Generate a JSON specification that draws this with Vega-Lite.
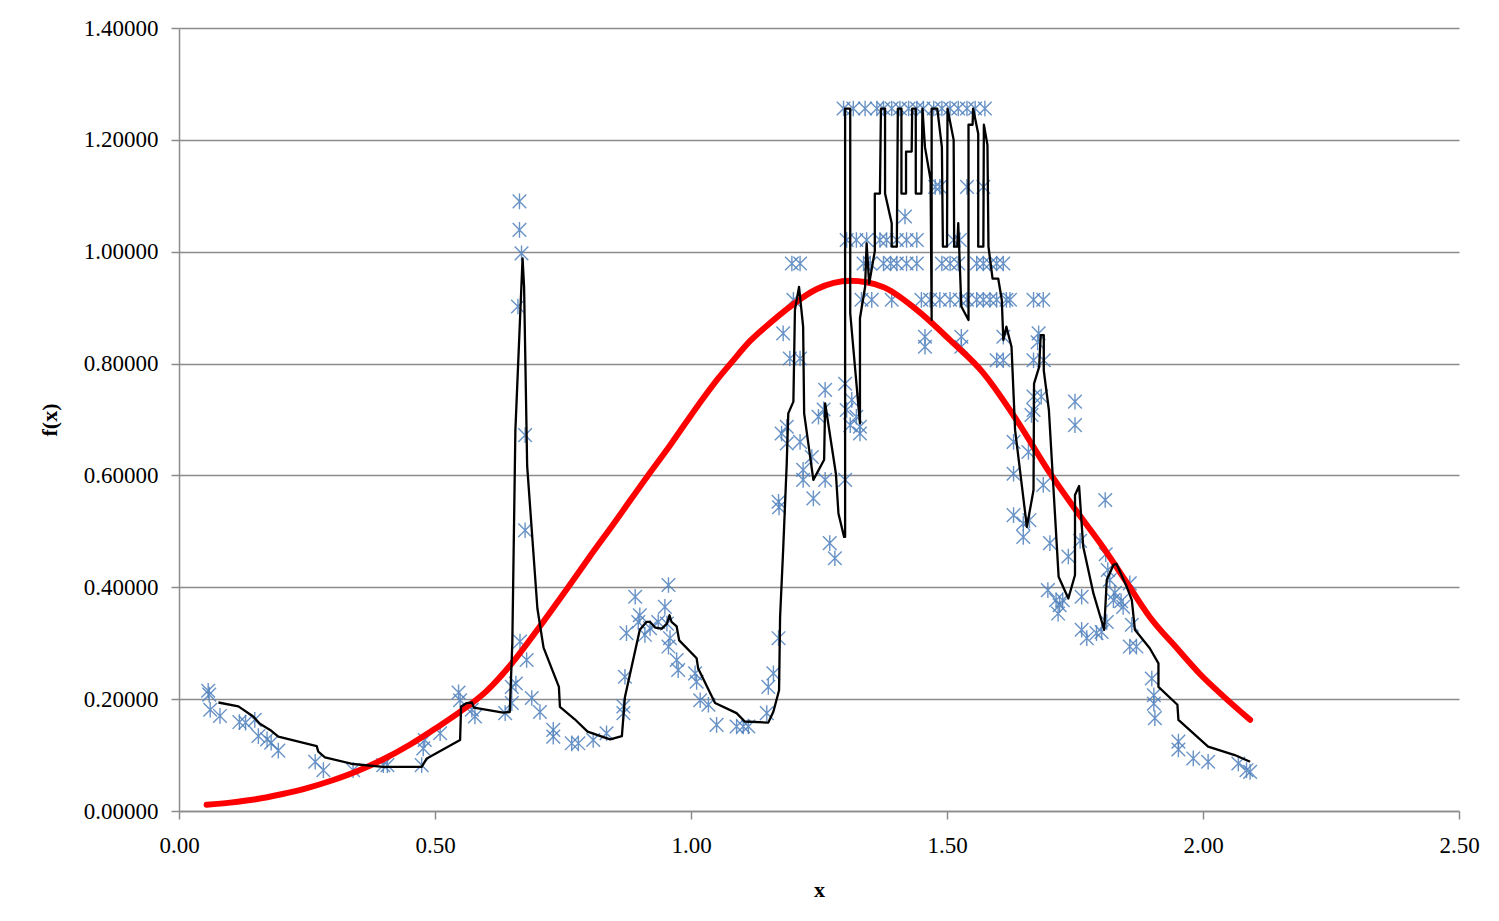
{
  "$schema": "https://vega.github.io/schema/vega-lite/v6.json",
  "width": 1280,
  "height": 783,
  "autosize": {"type": "none"},
  "padding": {"left": 179, "top": 28, "right": 40, "bottom": 110},
  "background": "white",
  "config": {
    "view": {"stroke": null},
    "font": "Liberation Serif",
    "axis": {
      "labelFont": "Liberation Serif",
      "titleFont": "Liberation Serif",
      "labelFontSize": 23,
      "titleFontSize": 22,
      "labelColor": "#000000",
      "titleColor": "#000000",
      "titleFontWeight": "bold",
      "domainColor": "#8c8c8c",
      "domainWidth": 1.5,
      "tickColor": "#8c8c8c",
      "tickWidth": 1.5,
      "tickSize": 8,
      "gridColor": "#8c8c8c",
      "gridWidth": 1.3,
      "labelFlush": false
    }
  },
  "datasets": {
    "pts": [
      {"x":0.057,"y":0.215},{"x":0.059,"y":0.208},{"x":0.061,"y":0.181},{"x":0.080,"y":0.170},
      {"x":0.118,"y":0.159},{"x":0.130,"y":0.158},{"x":0.148,"y":0.163},{"x":0.155,"y":0.134},
      {"x":0.172,"y":0.128},{"x":0.180,"y":0.122},{"x":0.194,"y":0.108},{"x":0.266,"y":0.088},
      {"x":0.282,"y":0.073},{"x":0.340,"y":0.073},{"x":0.399,"y":0.082},{"x":0.407,"y":0.082},
      {"x":0.474,"y":0.082},{"x":0.477,"y":0.112},{"x":0.480,"y":0.127},{"x":0.510,"y":0.139},
      {"x":0.546,"y":0.212},{"x":0.549,"y":0.198},{"x":0.572,"y":0.181},{"x":0.578,"y":0.169},
      {"x":0.637,"y":0.175},{"x":0.650,"y":0.193},{"x":0.650,"y":0.222},{"x":0.658,"y":0.228},
      {"x":0.662,"y":0.902},{"x":0.665,"y":1.090},{"x":0.665,"y":1.039},{"x":0.669,"y":0.997},
      {"x":0.666,"y":0.303},{"x":0.676,"y":0.672},{"x":0.676,"y":0.502},{"x":0.679,"y":0.270},
      {"x":0.689,"y":0.202},{"x":0.705,"y":0.177},{"x":0.731,"y":0.145},{"x":0.731,"y":0.133},
      {"x":0.767,"y":0.121},{"x":0.780,"y":0.121},{"x":0.809,"y":0.127},{"x":0.835,"y":0.139},
      {"x":0.868,"y":0.187},{"x":0.868,"y":0.175},{"x":0.871,"y":0.240},{"x":0.874,"y":0.318},
      {"x":0.891,"y":0.383},{"x":0.900,"y":0.350},{"x":0.897,"y":0.338},{"x":0.910,"y":0.315},
      {"x":0.920,"y":0.327},{"x":0.936,"y":0.338},{"x":0.949,"y":0.365},{"x":0.956,"y":0.404},
      {"x":0.953,"y":0.335},{"x":0.959,"y":0.309},{"x":0.956,"y":0.294},{"x":0.972,"y":0.270},
      {"x":0.975,"y":0.252},{"x":1.008,"y":0.246},{"x":1.011,"y":0.231},{"x":1.018,"y":0.198},
      {"x":1.034,"y":0.190},{"x":1.050,"y":0.154},{"x":1.089,"y":0.151},{"x":1.102,"y":0.151},
      {"x":1.112,"y":0.151},{"x":1.148,"y":0.175},{"x":1.151,"y":0.222},{"x":1.161,"y":0.246},
      {"x":1.171,"y":0.309},{"x":1.171,"y":0.553},{"x":1.172,"y":0.543},{"x":1.177,"y":0.675},
      {"x":1.187,"y":0.687},{"x":1.187,"y":0.657},{"x":1.180,"y":0.854},{"x":1.193,"y":0.809},
      {"x":1.213,"y":0.809},{"x":1.197,"y":0.979},{"x":1.213,"y":0.979},{"x":1.200,"y":0.914},
      {"x":1.213,"y":0.660},{"x":1.219,"y":0.610},{"x":1.236,"y":0.633},{"x":1.219,"y":0.592},
      {"x":1.239,"y":0.559},{"x":1.249,"y":0.705},{"x":1.259,"y":0.718},{"x":1.262,"y":0.753},
      {"x":1.262,"y":0.592},{"x":1.271,"y":0.479},{"x":1.281,"y":0.452},{"x":1.301,"y":0.764},
      {"x":1.304,"y":0.717},{"x":1.314,"y":0.735},{"x":1.323,"y":0.705},{"x":1.311,"y":0.690},
      {"x":1.330,"y":0.687},{"x":1.330,"y":0.675},{"x":1.301,"y":0.592},
      {"x":1.298,"y":1.256},{"x":1.317,"y":1.256},{"x":1.340,"y":1.256},{"x":1.363,"y":1.256},
      {"x":1.376,"y":1.256},{"x":1.392,"y":1.256},{"x":1.408,"y":1.256},{"x":1.425,"y":1.256},
      {"x":1.441,"y":1.256},{"x":1.454,"y":1.256},{"x":1.474,"y":1.256},{"x":1.490,"y":1.256},
      {"x":1.506,"y":1.256},{"x":1.522,"y":1.256},{"x":1.539,"y":1.256},{"x":1.555,"y":1.256},
      {"x":1.574,"y":1.256},
      {"x":1.477,"y":1.116},{"x":1.486,"y":1.116},{"x":1.539,"y":1.116},{"x":1.571,"y":1.116},
      {"x":1.418,"y":1.063},
      {"x":1.304,"y":1.021},{"x":1.323,"y":1.021},{"x":1.343,"y":1.021},{"x":1.369,"y":1.021},
      {"x":1.382,"y":1.021},{"x":1.402,"y":1.021},{"x":1.421,"y":1.021},{"x":1.441,"y":1.021},
      {"x":1.513,"y":1.021},{"x":1.525,"y":1.021},
      {"x":1.337,"y":0.979},{"x":1.350,"y":0.979},{"x":1.376,"y":0.979},{"x":1.390,"y":0.979},
      {"x":1.402,"y":0.979},{"x":1.421,"y":0.979},{"x":1.441,"y":0.979},{"x":1.490,"y":0.979},
      {"x":1.506,"y":0.979},{"x":1.522,"y":0.979},{"x":1.558,"y":0.979},{"x":1.571,"y":0.979},
      {"x":1.584,"y":0.979},{"x":1.597,"y":0.979},{"x":1.610,"y":0.979},
      {"x":1.333,"y":0.914},{"x":1.353,"y":0.914},{"x":1.392,"y":0.914},{"x":1.450,"y":0.914},
      {"x":1.467,"y":0.914},{"x":1.486,"y":0.914},{"x":1.506,"y":0.914},{"x":1.525,"y":0.914},
      {"x":1.539,"y":0.914},{"x":1.558,"y":0.914},{"x":1.571,"y":0.914},{"x":1.584,"y":0.914},
      {"x":1.597,"y":0.914},{"x":1.616,"y":0.914},{"x":1.623,"y":0.914},{"x":1.669,"y":0.914},
      {"x":1.688,"y":0.914},
      {"x":1.457,"y":0.848},{"x":1.528,"y":0.848},{"x":1.610,"y":0.848},
      {"x":1.457,"y":0.830},{"x":1.528,"y":0.830},
      {"x":1.597,"y":0.806},{"x":1.610,"y":0.806},{"x":1.669,"y":0.806},{"x":1.689,"y":0.806},
      {"x":1.679,"y":0.854},{"x":1.677,"y":0.838},
      {"x":1.669,"y":0.741},{"x":1.684,"y":0.741},{"x":1.669,"y":0.717},
      {"x":1.750,"y":0.732},{"x":1.750,"y":0.690},{"x":1.665,"y":0.708},
      {"x":1.630,"y":0.660},{"x":1.659,"y":0.642},{"x":1.630,"y":0.603},{"x":1.688,"y":0.583},
      {"x":1.809,"y":0.556},{"x":1.630,"y":0.529},{"x":1.649,"y":0.514},{"x":1.661,"y":0.520},
      {"x":1.649,"y":0.490},{"x":1.701,"y":0.479},{"x":1.737,"y":0.455},{"x":1.760,"y":0.483},
      {"x":1.810,"y":0.459},{"x":1.814,"y":0.431},{"x":1.857,"y":0.407},{"x":1.697,"y":0.395},
      {"x":1.713,"y":0.377},{"x":1.726,"y":0.377},{"x":1.720,"y":0.368},{"x":1.717,"y":0.353},
      {"x":1.763,"y":0.383},{"x":1.825,"y":0.377},{"x":1.828,"y":0.390},{"x":1.844,"y":0.365},
      {"x":1.763,"y":0.324},{"x":1.773,"y":0.309},{"x":1.792,"y":0.318},{"x":1.802,"y":0.320},
      {"x":1.861,"y":0.333},{"x":1.857,"y":0.294},{"x":1.870,"y":0.294},
      {"x":1.900,"y":0.237},{"x":1.904,"y":0.207},{"x":1.904,"y":0.192},{"x":1.906,"y":0.166},
      {"x":1.952,"y":0.124},{"x":1.952,"y":0.110},{"x":1.981,"y":0.094},{"x":2.010,"y":0.088},
      {"x":2.069,"y":0.085},{"x":2.085,"y":0.073},{"x":2.092,"y":0.070},
      {"x":1.818,"y":0.413},{"x":1.812,"y":0.338},{"x":1.840,"y":0.375}
    ],
    "ma": [
      {"i":1,"x":0.077,"y":0.194},{"i":2,"x":0.116,"y":0.187},{"i":3,"x":0.145,"y":0.169},
      {"i":4,"x":0.158,"y":0.156},{"i":5,"x":0.178,"y":0.145},{"i":6,"x":0.194,"y":0.133},
      {"i":7,"x":0.269,"y":0.116},{"i":8,"x":0.272,"y":0.106},{"i":9,"x":0.285,"y":0.096},
      {"i":10,"x":0.340,"y":0.084},{"i":11,"x":0.399,"y":0.079},{"i":12,"x":0.474,"y":0.079},
      {"i":13,"x":0.484,"y":0.094},{"i":14,"x":0.549,"y":0.127},{"i":15,"x":0.551,"y":0.187},
      {"i":16,"x":0.562,"y":0.193},{"i":17,"x":0.572,"y":0.194},{"i":18,"x":0.576,"y":0.185},
      {"i":19,"x":0.633,"y":0.176},{"i":20,"x":0.646,"y":0.177},{"i":21,"x":0.651,"y":0.300},
      {"i":22,"x":0.657,"y":0.681},{"i":23,"x":0.671,"y":0.988},{"i":24,"x":0.674,"y":0.937},
      {"i":25,"x":0.680,"y":0.617},{"i":26,"x":0.700,"y":0.362},{"i":27,"x":0.712,"y":0.292},
      {"i":28,"x":0.742,"y":0.222},{"i":29,"x":0.744,"y":0.186},{"i":30,"x":0.773,"y":0.164},
      {"i":31,"x":0.798,"y":0.142},{"i":32,"x":0.829,"y":0.132},{"i":33,"x":0.842,"y":0.128},
      {"i":34,"x":0.865,"y":0.134},{"i":35,"x":0.871,"y":0.204},{"i":36,"x":0.900,"y":0.324},
      {"i":37,"x":0.913,"y":0.338},{"i":38,"x":0.920,"y":0.338},{"i":39,"x":0.930,"y":0.328},
      {"i":40,"x":0.943,"y":0.326},{"i":41,"x":0.953,"y":0.335},{"i":42,"x":0.958,"y":0.350},
      {"i":43,"x":0.962,"y":0.338},{"i":44,"x":0.972,"y":0.330},{"i":45,"x":0.977,"y":0.305},
      {"i":46,"x":1.011,"y":0.273},{"i":47,"x":1.014,"y":0.255},{"i":48,"x":1.047,"y":0.193},
      {"i":49,"x":1.089,"y":0.175},{"i":50,"x":1.105,"y":0.160},{"i":51,"x":1.151,"y":0.158},
      {"i":52,"x":1.161,"y":0.178},{"i":53,"x":1.172,"y":0.216},{"i":54,"x":1.174,"y":0.347},
      {"i":55,"x":1.180,"y":0.467},{"i":56,"x":1.187,"y":0.622},{"i":57,"x":1.190,"y":0.711},
      {"i":58,"x":1.200,"y":0.732},{"i":59,"x":1.203,"y":0.896},{"i":60,"x":1.211,"y":0.937},
      {"i":61,"x":1.219,"y":0.866},{"i":62,"x":1.221,"y":0.711},{"i":63,"x":1.239,"y":0.592},
      {"i":64,"x":1.260,"y":0.628},{"i":65,"x":1.262,"y":0.729},{"i":66,"x":1.283,"y":0.603},
      {"i":67,"x":1.288,"y":0.532},{"i":68,"x":1.299,"y":0.490},{"i":69,"x":1.301,"y":0.490},
      {"i":70,"x":1.301,"y":1.256},{"i":71,"x":1.311,"y":1.256},{"i":72,"x":1.311,"y":0.890},
      {"i":73,"x":1.330,"y":0.693},{"i":74,"x":1.330,"y":0.881},{"i":75,"x":1.340,"y":0.937},
      {"i":76,"x":1.343,"y":1.015},{"i":77,"x":1.348,"y":0.943},{"i":78,"x":1.359,"y":1.001},
      {"i":79,"x":1.359,"y":1.104},{"i":80,"x":1.369,"y":1.104},{"i":81,"x":1.371,"y":1.256},
      {"i":82,"x":1.379,"y":1.256},{"i":83,"x":1.379,"y":1.104},{"i":84,"x":1.392,"y":1.051},
      {"i":85,"x":1.392,"y":1.009},{"i":86,"x":1.402,"y":1.009},{"i":87,"x":1.404,"y":1.256},
      {"i":88,"x":1.411,"y":1.256},{"i":89,"x":1.411,"y":1.104},{"i":90,"x":1.420,"y":1.104},
      {"i":91,"x":1.420,"y":1.179},{"i":92,"x":1.431,"y":1.179},{"i":93,"x":1.432,"y":1.256},
      {"i":94,"x":1.439,"y":1.256},{"i":95,"x":1.439,"y":1.104},{"i":96,"x":1.450,"y":1.104},
      {"i":97,"x":1.452,"y":1.256},{"i":98,"x":1.457,"y":1.187},{"i":99,"x":1.468,"y":1.128},
      {"i":100,"x":1.470,"y":0.878},{"i":101,"x":1.470,"y":1.256},{"i":102,"x":1.481,"y":1.256},
      {"i":103,"x":1.490,"y":1.187},{"i":104,"x":1.492,"y":1.009},{"i":105,"x":1.500,"y":1.009},
      {"i":106,"x":1.501,"y":1.256},{"i":107,"x":1.513,"y":1.200},{"i":108,"x":1.514,"y":1.009},
      {"i":109,"x":1.520,"y":1.009},{"i":110,"x":1.522,"y":1.051},{"i":111,"x":1.528,"y":0.902},
      {"i":112,"x":1.542,"y":0.878},{"i":113,"x":1.542,"y":1.227},{"i":114,"x":1.550,"y":1.227},
      {"i":115,"x":1.551,"y":1.256},{"i":116,"x":1.561,"y":1.211},{"i":117,"x":1.561,"y":1.009},
      {"i":118,"x":1.571,"y":1.009},{"i":119,"x":1.572,"y":1.227},{"i":120,"x":1.579,"y":1.191},
      {"i":121,"x":1.581,"y":1.009},{"i":122,"x":1.589,"y":0.952},{"i":123,"x":1.600,"y":0.952},
      {"i":124,"x":1.607,"y":0.914},{"i":125,"x":1.610,"y":0.842},{"i":126,"x":1.616,"y":0.866},
      {"i":127,"x":1.626,"y":0.830},{"i":128,"x":1.633,"y":0.681},{"i":129,"x":1.656,"y":0.508},
      {"i":130,"x":1.669,"y":0.574},{"i":131,"x":1.670,"y":0.764},{"i":132,"x":1.680,"y":0.794},
      {"i":133,"x":1.683,"y":0.851},{"i":134,"x":1.689,"y":0.851},{"i":135,"x":1.689,"y":0.788},
      {"i":136,"x":1.699,"y":0.717},{"i":137,"x":1.718,"y":0.419},{"i":138,"x":1.737,"y":0.380},
      {"i":139,"x":1.750,"y":0.422},{"i":140,"x":1.750,"y":0.565},{"i":141,"x":1.758,"y":0.581},
      {"i":142,"x":1.766,"y":0.473},{"i":143,"x":1.786,"y":0.389},{"i":144,"x":1.807,"y":0.324},
      {"i":145,"x":1.812,"y":0.413},{"i":146,"x":1.825,"y":0.440},{"i":147,"x":1.831,"y":0.442},
      {"i":148,"x":1.851,"y":0.401},{"i":149,"x":1.861,"y":0.377},{"i":150,"x":1.867,"y":0.324},
      {"i":151,"x":1.896,"y":0.291},{"i":152,"x":1.913,"y":0.264},{"i":153,"x":1.913,"y":0.222},
      {"i":154,"x":1.950,"y":0.190},{"i":155,"x":1.952,"y":0.163},{"i":156,"x":2.010,"y":0.115},
      {"i":157,"x":2.062,"y":0.100},{"i":158,"x":2.092,"y":0.088}
    ],
    "fit": [
      {"x":0.054,"y":0.011},{"x":0.100,"y":0.015},{"x":0.150,"y":0.021},{"x":0.200,"y":0.030},
      {"x":0.250,"y":0.041},{"x":0.300,"y":0.055},{"x":0.350,"y":0.072},{"x":0.400,"y":0.093},
      {"x":0.450,"y":0.118},{"x":0.500,"y":0.147},{"x":0.550,"y":0.178},{"x":0.600,"y":0.214},
      {"x":0.650,"y":0.264},{"x":0.700,"y":0.324},{"x":0.760,"y":0.400},{"x":0.800,"y":0.452},
      {"x":0.850,"y":0.515},{"x":0.916,"y":0.600},{"x":0.960,"y":0.655},{"x":1.015,"y":0.727},
      {"x":1.050,"y":0.770},{"x":1.080,"y":0.803},{"x":1.115,"y":0.840},{"x":1.150,"y":0.869},
      {"x":1.180,"y":0.892},{"x":1.245,"y":0.933},{"x":1.311,"y":0.948},{"x":1.375,"y":0.937},
      {"x":1.441,"y":0.896},{"x":1.506,"y":0.842},{"x":1.571,"y":0.783},{"x":1.636,"y":0.699},
      {"x":1.701,"y":0.604},{"x":1.750,"y":0.540},{"x":1.799,"y":0.479},{"x":1.850,"y":0.410},
      {"x":1.896,"y":0.347},{"x":1.950,"y":0.290},{"x":1.994,"y":0.245},{"x":2.040,"y":0.205},
      {"x":2.092,"y":0.163}
    ]
  },
  "layer": [
    {
      "data": {"name": "pts"},
      "mark": {"type": "point", "shape": "M-1,-1L1,1M-1,1L1,-1M0,-1.15L0,1.15", "filled": false, "size": 185, "stroke": "#4F81BD", "strokeWidth": 1.4, "opacity": 0.85},
      "encoding": {
        "x": {"field": "x", "type": "quantitative", "scale": {"domain": [0, 2.5], "nice": false},
          "axis": {"title": "x", "values": [0, 0.5, 1, 1.5, 2, 2.5], "format": ".2f", "grid": false, "labelPadding": 15, "titlePadding": 22}},
        "y": {"field": "y", "type": "quantitative", "scale": {"domain": [0, 1.4], "nice": false},
          "axis": {"title": "f(x)", "values": [0, 0.2, 0.4, 0.6, 0.8, 1.0, 1.2, 1.4], "format": ".5f", "grid": true, "labelPadding": 13, "titlePadding": 22}}
      }
    },
    {
      "data": {"name": "fit"},
      "mark": {"type": "line", "color": "#FF0000", "strokeWidth": 6, "strokeCap": "round", "strokeJoin": "round", "interpolate": "monotone"},
      "encoding": {
        "x": {"field": "x", "type": "quantitative"},
        "y": {"field": "y", "type": "quantitative"}
      }
    },
    {
      "data": {"name": "ma"},
      "mark": {"type": "line", "color": "#000000", "strokeWidth": 2.3, "strokeJoin": "round"},
      "encoding": {
        "x": {"field": "x", "type": "quantitative"},
        "y": {"field": "y", "type": "quantitative"},
        "order": {"field": "i", "type": "quantitative"}
      }
    }
  ]
}
